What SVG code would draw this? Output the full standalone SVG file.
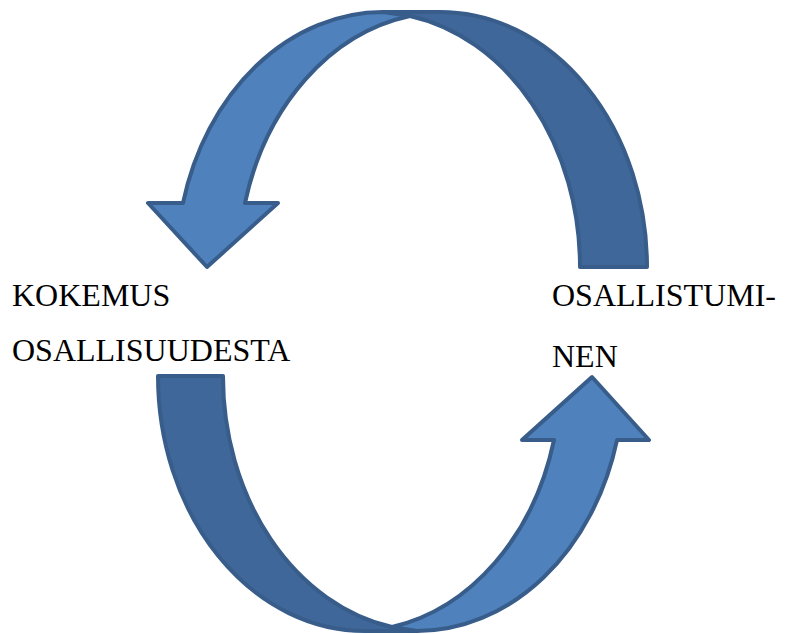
<svg xmlns="http://www.w3.org/2000/svg" width="785" height="634" viewBox="0 0 785 634">
<style>
.dark{fill:#40679a;stroke:#385d8a;stroke-width:4;stroke-linejoin:round}
.light{fill:#4f81bd;stroke:#385d8a;stroke-width:4;stroke-linejoin:round}
.lbl{font-family:'Liberation Serif','Times New Roman',serif;font-size:32px;fill:#000}
</style>
<rect width="785" height="634" fill="#fff"/>
<g id="connectors">
<g id="arrow-top">
<path class="dark" d="M647,267 A207,255 0 0 0 440,12 L383,12 L410,16 A207,255 0 0 1 580,267 Z"/>
<path class="light" d="M207,267 L148,203 L183,203 A207,255 0 0 1 383,12 L410,16 A207,255 0 0 0 245,203 L278,203 Z"/>
</g>
<g id="arrow-bottom">
<path class="dark" d="M158,376 A207,255 0 0 0 365,631 L417,631 L392,627 A207,255 0 0 1 223,376 Z"/>
<path class="light" d="M592,377 L649,440 L617,440 A207,255 0 0 1 417,631 L392,627 A207,255 0 0 0 554,440 L522,440 Z"/>
</g>
</g>
<g id="node-kokemus">
<text class="lbl" x="12" y="306">KOKEMUS</text>
<text class="lbl" x="12" y="361">OSALLISUUDESTA</text>
</g>
<g id="node-osallistuminen">
<text class="lbl" x="552" y="306">OSALLISTUMI-</text>
<text class="lbl" x="552" y="367">NEN</text>
</g>
</svg>
